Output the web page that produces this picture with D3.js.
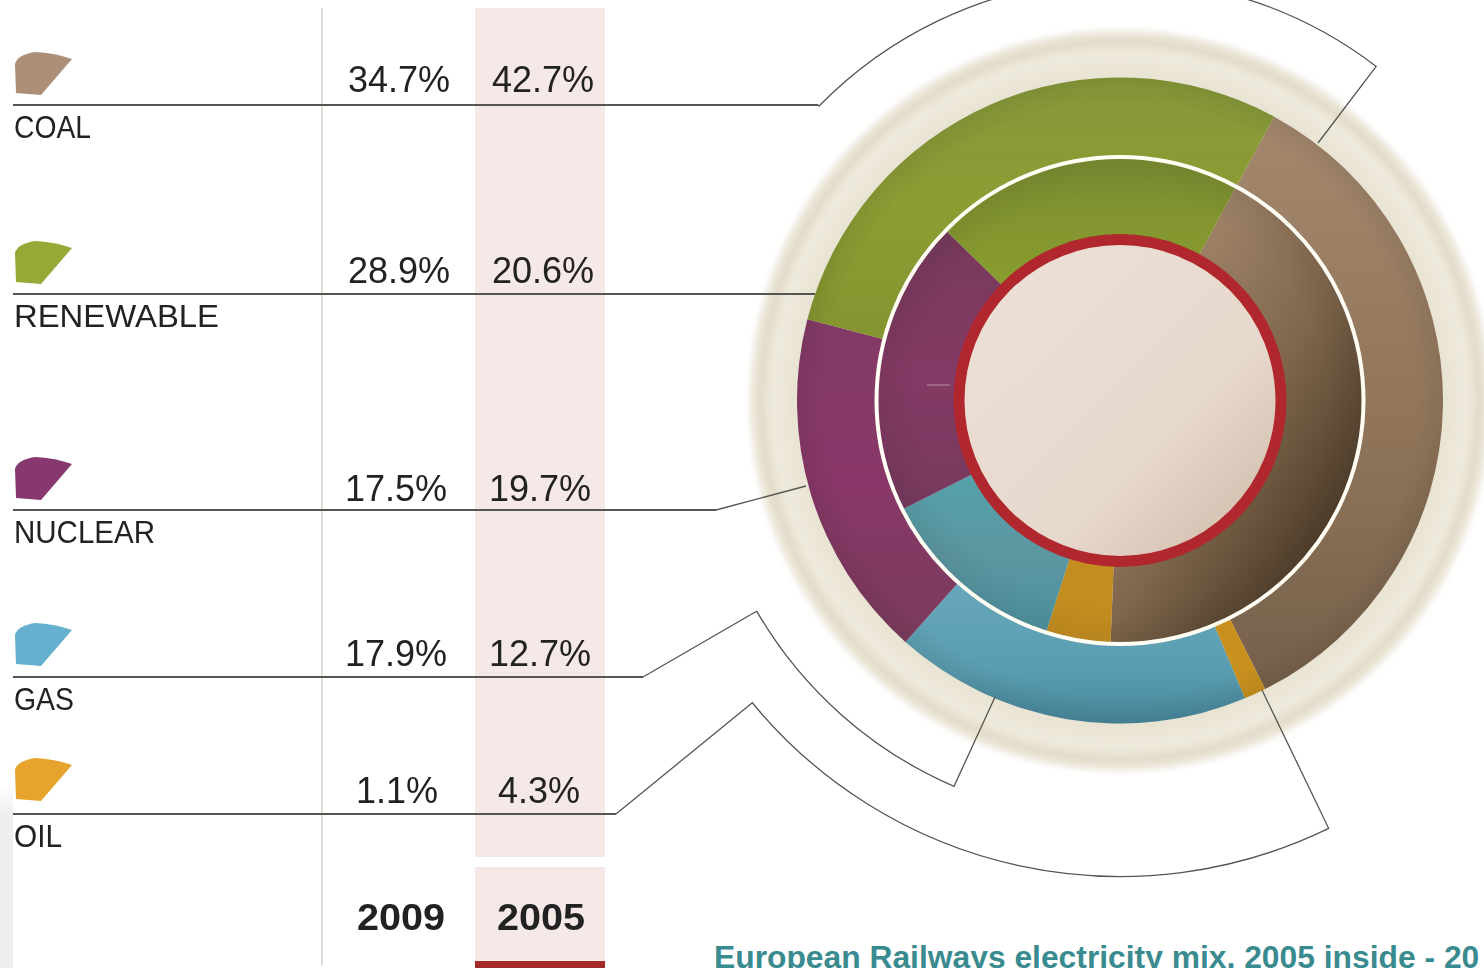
<!DOCTYPE html>
<html>
<head>
<meta charset="utf-8">
<style>
html, body { margin: 0; padding: 0; background: #fff; overflow: hidden; }
svg { display: block; }
text { font-family: "Liberation Sans", Arial, sans-serif; fill: #222; }
</style>
<script src="https://cdn.jsdelivr.net/npm/d3@7"></script>
</head>
<body>
<svg id="chart"></svg>
<script>
// data
var categories = ["COAL", "RENEWABLE", "NUCLEAR", "GAS", "OIL"];
var values_2009 = [34.7, 28.9, 17.5, 17.9, 1.1];
var values_2005 = [42.7, 20.6, 19.7, 12.7, 4.3];
var years = ["2009", "2005"];
var title_text = "European Railways electricity mix, 2005 inside - 20";

// ring order runs clockwise from the coal slice
var ring_order = ["COAL", "OIL", "GAS", "NUCLEAR", "RENEWABLE"];

var w = 1484, h = 968;
var cx = 1120, cy = 400.5;
var start_angle = 28.5 * Math.PI / 180;

// rows are not evenly spaced in the original
var row_y = [105, 294, 510, 677, 814];
var value_y = [92, 283, 501, 666, 803];
var col_x = [[399, 543], [399, 543], [396, 540], [396, 540], [397, 539]];
var year_x = [401, 541];
var label_w = [77, 205, 141, 60, 48];
var swatch_top = [52, 241, 457, 623, 758];
var swatch_color = ["#ad8f78", "#95a936", "#87386e", "#65b0cf", "#e6a42c"];

var svg = d3.select("#chart").attr("width", w).attr("height", h);
var defs = svg.append("defs");

// gradients are given in page coordinates, the rings are drawn around the origin
var to_ring = "translate(" + (-cx) + "," + (-cy) + ")";

function radial(id, r, stops) {
    var g = defs.append("radialGradient").attr("id", id)
        .attr("gradientUnits", "userSpaceOnUse")
        .attr("cx", 0).attr("cy", 0).attr("r", r);
    stops.forEach(function (s) {
        g.append("stop").attr("offset", s[0]).attr("stop-color", s[1]).attr("stop-opacity", s[2] === undefined ? 1 : s[2]);
    });
}
function linear(id, x1, y1, x2, y2, stops) {
    var g = defs.append("linearGradient").attr("id", id)
        .attr("gradientUnits", "userSpaceOnUse")
        .attr("gradientTransform", to_ring)
        .attr("x1", x1).attr("y1", y1).attr("x2", x2).attr("y2", y2);
    stops.forEach(function (s) {
        g.append("stop").attr("offset", s[0]).attr("stop-color", s[1]);
    });
}

radial("halo", 374, [[0, "#e9e3d3"], [0.868, "#e9e3d3"], [0.93, "#eeeadc"], [0.96, "#e3dbc8"], [0.98, "#ece6d9"], [1, "#ffffff"]]);
radial("rim_out", 323, [[0.92, "#000", 0], [1, "#000", 0.07]]);
radial("rim_in", 241, [[0.85, "#000", 0], [1, "#000", 0.06]]);
linear("center_fill", 1000, 280, 1270, 550, [[0, "#ecdfd5"], [0.6, "#e7d8cc"], [1, "#cdb9a8"]]);

linear("out_coal", 1300, 150, 1300, 690, [[0, "#a2866c"], [0.5, "#90755a"], [1, "#75604a"]]);
linear("out_ren", 0, 80, 0, 340, [[0, "#87983a"], [0.5, "#8c9d33"], [1, "#849530"]]);
linear("out_nuc", 0, 330, 0, 640, [[0, "#833a66"], [0.5, "#893768"], [1, "#7a3c5c"]]);
linear("out_gas", 0, 590, 0, 723, [[0, "#66a6ba"], [0.6, "#5a9db0"], [1, "#47879a"]]);
linear("in_coal", 1120, 400, 1340, 540, [[0, "#9a7f65"], [0.45, "#7f664c"], [1, "#4a3a27"]]);
linear("in_ren", 0, 160, 0, 290, [[0, "#7a8c33"], [0.5, "#83962f"], [1, "#8a9d30"]]);
linear("in_nuc", 0, 240, 0, 510, [[0, "#773a5c"], [0.5, "#843a64"], [1, "#763a5e"]]);
linear("in_gas", 0, 480, 0, 630, [[0, "#55a0aa"], [0.5, "#5c97a1"], [1, "#4d929f"]]);
linear("left_fade", 0, 785, 0, 815, [[0, "#ffffff"], [1, "#eeeeee"]]);
defs.select("#left_fade").attr("gradientTransform", null);

var out_fill = { COAL: "url(#out_coal)", OIL: "#c8901f", GAS: "url(#out_gas)", NUCLEAR: "url(#out_nuc)", RENEWABLE: "url(#out_ren)" };
var in_fill = { COAL: "url(#in_coal)", OIL: "#c48d20", GAS: "url(#in_gas)", NUCLEAR: "url(#in_nuc)", RENEWABLE: "url(#in_ren)" };

// soft blur, the original is a low resolution scan
defs.append("filter").attr("id", "soft").append("feGaussianBlur").attr("stdDeviation", 0.5);
defs.append("filter").attr("id", "soft_halo").append("feGaussianBlur").attr("stdDeviation", 2);

// table background
svg.append("rect").attr("x", 0).attr("y", 785).attr("width", 13).attr("height", 183).attr("fill", "url(#left_fade)");
svg.append("rect").attr("x", 475).attr("y", 8).attr("width", 130).attr("height", 849).attr("fill", "#f4e9e6");
svg.append("rect").attr("x", 475).attr("y", 867).attr("width", 130).attr("height", 94).attr("fill", "#f4e9e6");
svg.append("rect").attr("x", 475).attr("y", 961).attr("width", 130).attr("height", 7).attr("fill", "#a42a2c");
svg.append("line").attr("x1", 322).attr("x2", 322).attr("y1", 8).attr("y2", 965)
    .attr("stroke", "#dcdcd4").attr("stroke-width", 2);

// rings
var ring = svg.append("g").attr("transform", "translate(" + cx + "," + cy + ")");
ring.append("circle").attr("r", 374).attr("fill", "url(#halo)").attr("filter", "url(#soft_halo)");

function drawRing(vals, r0, r1, fills) {
    var pie = d3.pie().sort(null).value(function (d) { return d.value; })
        .startAngle(start_angle).endAngle(start_angle + 2 * Math.PI);
    var slices = ring_order.map(function (c) {
        return { name: c, value: vals[categories.indexOf(c)] };
    });
    var arc = d3.arc().innerRadius(r0).outerRadius(r1);
    ring.append("g").selectAll("path").data(pie(slices)).enter().append("path")
        .attr("d", arc)
        .attr("fill", function (d) { return fills[d.data.name]; });
}

drawRing(values_2009, 243, 323, out_fill);
drawRing(values_2005, 160, 243, in_fill);

ring.append("circle").attr("r", 323).attr("fill", "url(#rim_out)");
ring.append("circle").attr("r", 243).attr("fill", "url(#rim_in)");
ring.append("circle").attr("r", 243.5).attr("fill", "none").attr("stroke", "#fffdf4").attr("stroke-width", 4);
ring.append("circle").attr("r", 161).attr("fill", "url(#center_fill)").attr("stroke", "#b0282e").attr("stroke-width", 11);

// small pale scratch on the inner nuclear slice
svg.append("line").attr("x1", 927).attr("x2", 950).attr("y1", 385).attr("y2", 385)
    .attr("stroke", "#b98aa3").attr("stroke-width", 1);

// leader lines
function ang(x, y) { return Math.atan2(y - cy, x - cx); }

var coal_path = d3.path();
coal_path.moveTo(818, row_y[0]);
coal_path.arc(cx, cy, 421, ang(818, row_y[0]), ang(1375, 68));
coal_path.lineTo(1318, 143);

var nuc_path = d3.path();
nuc_path.moveTo(716, row_y[2]);
nuc_path.lineTo(806, 486);

var gas_path = d3.path();
gas_path.moveTo(643, row_y[3]);
gas_path.lineTo(757, 611);
gas_path.arc(cx, cy, 420, ang(757, 611), ang(955, 784), true);
gas_path.lineTo(995, 697);

var oil_path = d3.path();
oil_path.moveTo(616, row_y[4]);
oil_path.lineTo(752, 703);
oil_path.arc(cx, cy, 476, ang(752, 703), ang(1328, 827), true);
oil_path.lineTo(1262, 690);

svg.append("g").selectAll("path")
    .data([coal_path, nuc_path, gas_path, oil_path])
    .enter().append("path")
    .attr("d", function (d) { return d.toString(); })
    .attr("fill", "none")
    .attr("stroke", "#55564f")
    .attr("stroke-width", 1.3)
    .attr("filter", "url(#soft)");

// where each row rule stops before its leader starts
var rule_end = [818, 815, 716, 643, 616];
svg.append("g").selectAll("line").data(row_y).enter().append("line")
    .attr("x1", 13)
    .attr("x2", function (d, i) { return rule_end[i]; })
    .attr("y1", function (d) { return d; })
    .attr("y2", function (d) { return d; })
    .attr("stroke", "#55564f")
    .attr("stroke-width", 2);

// legend swatches
svg.append("g").selectAll("path").data(categories).enter().append("path")
    .attr("d", "M1,41 L0,12 Q2,3 20,0 Q40,1 57,7 L26,43 Z")
    .attr("transform", function (d, i) { return "translate(15," + swatch_top[i] + ")"; })
    .attr("fill", function (d, i) { return swatch_color[i]; });

// table text
var rows = svg.append("g").attr("filter", "url(#soft)");
rows.selectAll("text.name").data(categories).enter().append("text")
    .attr("class", "name")
    .attr("x", 14)
    .attr("y", function (d, i) { return row_y[i] + 33; })
    .attr("font-size", 31)
    .attr("textLength", function (d, i) { return label_w[i]; })
    .attr("lengthAdjust", "spacingAndGlyphs")
    .text(function (d) { return d; });

[values_2009, values_2005].forEach(function (vals, c) {
    rows.selectAll("text.v" + c).data(vals).enter().append("text")
        .attr("class", "v" + c)
        .attr("x", function (d, i) { return col_x[i][c]; })
        .attr("y", function (d, i) { return value_y[i]; })
        .attr("font-size", 36)
        .attr("text-anchor", "middle")
        .text(function (d) { return d.toFixed(1) + "%"; });
});

rows.selectAll("text.year").data(years).enter().append("text")
    .attr("class", "year")
    .attr("x", function (d, i) { return year_x[i]; })
    .attr("y", 930)
    .attr("font-size", 37)
    .attr("font-weight", "bold")
    .attr("text-anchor", "middle")
    .attr("textLength", 88)
    .attr("lengthAdjust", "spacingAndGlyphs")
    .text(function (d) { return d; });

svg.append("text")
    .attr("x", 714)
    .attr("y", 968)
    .attr("font-size", 31.8)
    .attr("font-weight", "bold")
    .style("fill", "#3a8b90")
    .text(title_text);
</script>
</body>
</html>
